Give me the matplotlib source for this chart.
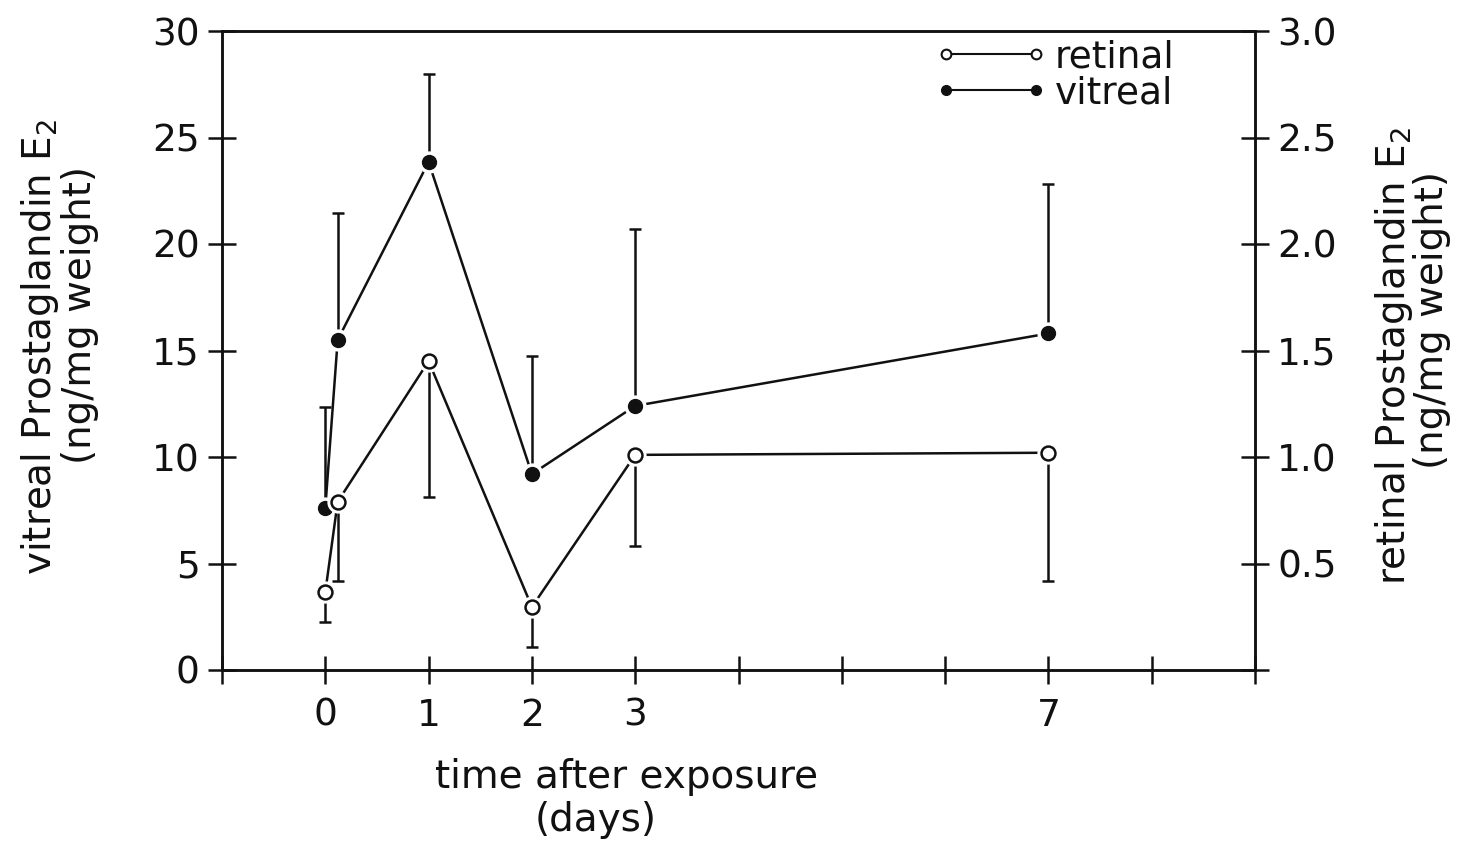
import matplotlib
matplotlib.use("Agg")
import matplotlib.pyplot as plt
from matplotlib.lines import Line2D

plt.rcParams.update({
    "font.family": ["DejaVu Sans"],
    "mathtext.default": "regular",
    "text.color": "#111111",
})

# days after exposure (the second point sits just after day 0)
days = [0, 0.12, 1, 2, 3, 7]
# vitreal PGE2 (ng/mg weight), left axis, upper error bar tips
vitreal = [7.6, 15.5, 23.85, 9.2, 12.4, 15.8]
vitreal_hi = [12.35, 21.45, 28.0, 14.75, 20.7, 22.8]
# retinal PGE2 (ng/mg weight), right axis, lower error bar tips
retinal = [0.366, 0.79, 1.45, 0.296, 1.01, 1.02]
retinal_lo = [0.225, 0.42, 0.81, 0.108, 0.58, 0.42]

xticks = list(range(-1, 10))
xlabels = ["", "0", "1", "2", "3", "", "", "", "7", "", ""]
left_ticks = [0, 5, 10, 15, 20, 25, 30]
right_ticks = [0, 0.5, 1.0, 1.5, 2.0, 2.5, 3.0]
right_labels = ["", "0.5", "1.0", "1.5", "2.0", "2.5", "3.0"]

INK = "#111111"
LW = 1.8
FS = 27
FS_LAB = 28

fig = plt.figure(figsize=(14.57, 8.43), dpi=100)
ax = fig.add_axes([222 / 1457, 1 - 670 / 843, (1255 - 222) / 1457, (670 - 31) / 843])
ax2 = ax.twinx()

# vitreal: filled, upper bars only
v_err = [[0] * len(vitreal), [h - v for h, v in zip(vitreal_hi, vitreal)]]
ax.errorbar(days, vitreal, yerr=v_err, fmt="none", ecolor=INK, elinewidth=LW,
            capsize=4, capthick=LW)
ax.plot(days, vitreal, "-", color=INK, lw=LW, zorder=2)
ax.plot(days, vitreal, "o", ms=15, color="white", zorder=3)
ax.plot(days, vitreal, "o", ms=10, color=INK, zorder=4)

# retinal: open, lower bars only
r_err = [[r - l for r, l in zip(retinal, retinal_lo)], [0] * len(retinal)]
ax2.errorbar(days, retinal, yerr=r_err, fmt="none", ecolor=INK, elinewidth=LW,
             capsize=4, capthick=LW)
ax2.plot(days, retinal, "-", color=INK, lw=LW, zorder=2)
ax2.plot(days, retinal, "o", ms=15, color="white", zorder=3)
ax2.plot(days, retinal, "o", ms=10, mfc="white", mec=INK, mew=LW, zorder=4)

ax.set_xlim(-1, 9)
ax.set_ylim(0, 30)
ax2.set_ylim(0, 3.0)
ax.set_xticks(xticks)
ax.set_xticklabels(xlabels)
ax.set_yticks(left_ticks)
ax2.set_yticks(right_ticks)
ax2.set_yticklabels(right_labels)

for a in (ax, ax2):
    a.tick_params(direction="inout", length=20, width=LW, colors=INK,
                  labelsize=FS, pad=6)
    for s in a.spines.values():
        s.set_linewidth(LW)
        s.set_color(INK)
ax.tick_params(axis="x", pad=10)

# legend: marker - line - marker
h_ret = Line2D([], [], color=INK, lw=1.5, marker="o", ms=7, mfc="white", mec=INK, mew=1.5)
h_vit = Line2D([], [], color=INK, lw=1.5, marker="o", ms=7, mfc=INK, mec=INK)
ax.legend([h_ret, h_vit], ["retinal", "vitreal"], loc="upper right",
          bbox_to_anchor=(0.955, 1.04), frameon=False, numpoints=2,
          handlelength=3.0, handletextpad=0.2, labelspacing=0.0, fontsize=FS)

# axis titles, placed by hand like the original
fig.text(40 / 1457, 1 - 347 / 843, "vitreal Prostaglandin E$_2$", rotation=90,
         ha="center", va="center", fontsize=FS_LAB)
fig.text(80 / 1457, 1 - 315 / 843, "(ng/mg weight)", rotation=90,
         ha="center", va="center", fontsize=FS_LAB)
fig.text(1394 / 1457, 1 - 356 / 843, "retinal Prostaglandin E$_2$", rotation=90,
         ha="center", va="center", fontsize=FS_LAB)
fig.text(1432 / 1457, 1 - 320 / 843, "(ng/mg weight)", rotation=90,
         ha="center", va="center", fontsize=FS_LAB)
fig.text(627 / 1457, 1 - 777 / 843, "time after exposure",
         ha="center", va="center", fontsize=FS_LAB)
fig.text(596 / 1457, 1 - 820 / 843, "(days)",
         ha="center", va="center", fontsize=FS_LAB)

fig.savefig("out.png", dpi=100, facecolor="white")
